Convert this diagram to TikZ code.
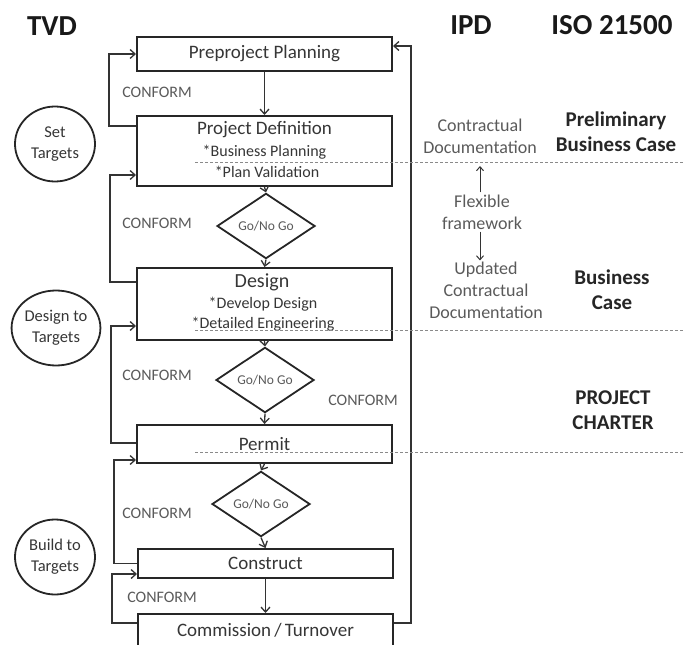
\documentclass[tikz,border=0pt]{standalone}
\usepackage{fontspec}
\setmainfont{Carlito}
\usetikzlibrary{shapes.geometric,arrows.meta,calc}
\definecolor{boxtxt}{HTML}{363636}
\definecolor{graytxt}{HTML}{5A5A5A}
\definecolor{dashc}{HTML}{8A8A8A}
\begin{document}
\begin{tikzpicture}[x=1pt,y=-1pt,
  box/.style={draw=black!85,line width=2pt,minimum width=255pt,inner sep=0pt,align=center,text=boxtxt,font=\fontsize{19}{21}\selectfont},
  boxt/.style={text=boxtxt,inner sep=0pt},
  dia/.style={diamond,draw=black!85,line width=1.8pt,minimum width=98pt,minimum height=44pt,inner sep=0pt,font=\fontsize{13.5}{14}\selectfont,text=black!65},
  arr/.style={line width=1.3pt,draw=black!80,-{Straight Barb[length=5pt,width=9pt,line width=1.3pt]}},
  sarr/.style={line width=1pt,draw=black!80,-{Straight Barb[length=4pt,width=7pt,line width=1pt]}},
  conf/.style={font=\fontsize{16}{16}\selectfont,text=graytxt,inner sep=0pt},
  circ/.style={ellipse,draw=black!85,line width=1.8pt,minimum width=80pt,minimum height=75pt,inner sep=0pt,align=center,font=\fontsize{16.5}{21}\selectfont,text=boxtxt},
  ttl/.style={font=\fontsize{29}{30}\bfseries\selectfont,text=black!90,inner sep=0pt},
  bld/.style={font=\fontsize{21}{25}\bfseries\selectfont,text=black!85,align=center,inner sep=0pt},
  gry/.style={font=\fontsize{18}{22}\selectfont,text=graytxt,align=center,inner sep=0pt},
  dsh/.style={draw=dashc,line width=1pt,dash pattern=on 3pt off 2pt}
]
\useasboundingbox (0,0) rectangle (684,644);

% titles
\node[ttl] (tvd) at (52,26) {TVD};
\node[ttl] (ipd) at (471,25) {IPD};
\node[ttl] (iso) at (612,25) {ISO 21500};

% boxes
\node[box,minimum height=34pt] (pp) at (264.5,54) {Preproject Planning};
\node[box,minimum height=70pt] (pd) at (264.5,151) {};
\node[boxt,font=\fontsize{19}{21}\selectfont] (pdt) at (264.5,130) {Project Definition};
\node[boxt,font=\fontsize{16}{18}\selectfont] (pdb) at (264.5,152) {*Business Planning};
\node[boxt,font=\fontsize{16}{18}\selectfont] (pdv) at (267,172) {*Plan Validation};

\node[dia] (d1) at (266,226) {Go/No Go};

\node[box,minimum height=72pt] (de) at (264.5,304) {};
\node[boxt,font=\fontsize{20}{21}\selectfont] (det) at (262,282) {Design};
\node[boxt,font=\fontsize{16}{18}\selectfont] (ded) at (263,304) {*Develop Design};
\node[boxt,font=\fontsize{16}{18}\selectfont] (dee) at (263,324) {*Detailed Engineering};

\node[dia] (d2) at (265,380) {Go/No Go};

\node[box,minimum height=38pt] (pe) at (264.5,444) {Permit};

\node[dia] (d3) at (261,504) {Go/No Go};

\node[box,minimum height=29pt] (co) at (265.5,563.5) {Construct};
\node[box,minimum height=40pt,anchor=north] (cm) at (265.5,613) {};
\node[boxt,font=\fontsize{19}{21}\selectfont] (cmt) at (265.5,630) {Commission\,/\,Turnover};

% circles
\node[circ] (c1) at (55,144) {Set\\Targets};
\node[circ] (c2) at (56,328) {Design to\\Targets};
\node[circ] (c3) at (55,557) {Build to\\Targets};

% main flow arrows
\draw[arr] (pp.south) -- (pd.north);
\draw[arr] (pd.south) -- (d1.north);
\draw[arr] (d1.south) -- (de.north);
\draw[arr] (de.south) -- (d2.north);
\draw[arr] (d2.south) -- (pe.north);
\draw[arr] (pe.south) -- (d3.north);
\draw[arr] (d3.south) -- (co.north);
\draw[arr] (co.south) -- (cm.north);

% conform loops
\draw[arr] ($(pd.north west)+(0,11)$) -- ++(-27,0) |- (pp.west);
\draw[arr] ($(de.north west)+(0,15)$) -- ++(-26,0) |- ($(pd.south west)+(0,-12)$);
\draw[arr] ($(pe.west)+(0,-1)$) -- ++(-25,0) |- ($(de.south west)+(0,-15)$);
\draw[arr] (co.west) -- ++(-23,0) |- ($(pe.south west)+(0,-4)$);
\draw[arr] ($(cm.north west)+(0,10)$) -- ++(-25,0) |- ($(co.south west)+(0,-5)$);
\draw[arr] ($(cm.north east)+(0,10)$) -- ++(17,0) |- ($(pp.north east)+(0,10)$);

% CONFORM labels
\node[conf] (k1) at (157,92) {CONFORM};
\node[conf] (k2) at (157,223) {CONFORM};
\node[conf] (k3) at (157,375) {CONFORM};
\node[conf] (k4) at (363,400) {CONFORM};
\node[conf] (k5) at (157,513) {CONFORM};
\node[conf] (k6) at (162,597) {CONFORM};

% dashed separators
\coordinate (s1a) at (195,163); \coordinate (s1b) at (684,163);
\coordinate (s2a) at (195,330); \coordinate (s2b) at (684,330);
\coordinate (s3a) at (195,452); \coordinate (s3b) at (684,452);
\draw[dsh] (s1a) -- (s1b);
\draw[dsh] (s2a) -- (s2b);
\draw[dsh] (s3a) -- (s3b);

% IPD column
\node[gry] (cd) at (480,136) {Contractual\\Documentation};
\node[gry] (fx) at (482,212) {Flexible\\framework};
\node[gry] (ud) at (486,290) {Updated\\Contractual\\Documentation};
\coordinate (upend) at (480,166);
\draw[sarr] ($(fx.north)+(-2,-2)$) -- (upend);
\draw[sarr] ($(fx.south)+(-2,2)$) -- ($(ud.north)+(-6,-1)$);

% ISO column
\node[bld] (pbc) at (616,132) {Preliminary\\Business Case};
\node[bld] (bc) at (612,290) {Business\\Case};
\node[bld] (pc) at (613,410) {PROJECT\\CHARTER};
\end{tikzpicture}
\end{document}
